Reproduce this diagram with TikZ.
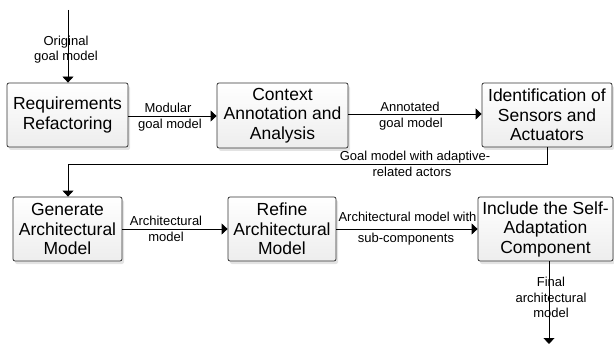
\documentclass[tikz,border=0pt]{standalone}
\usepackage{fontspec}
\setmainfont{Liberation Sans}
\usetikzlibrary{arrows.meta,shadows}
\tikzset{
  stage/.style={draw=black!80, line width=0.8pt, rounded corners=2pt,
    top color=white, bottom color=black!7,
    drop shadow={opacity=0.22, shadow xshift=2pt, shadow yshift=-3pt},
    align=center, inner sep=0pt,
    font=\fontsize{17.5}{19.5}\selectfont},
  flow/.style={draw=black, line width=0.8pt, -{Triangle[length=6pt,width=11pt]}},
  tag/.style={align=center, inner sep=0pt, font=\fontsize{13}{15.5}\selectfont}
}
\begin{document}
\begin{tikzpicture}[x=1pt,y=-1pt]
\useasboundingbox (0,0) rectangle (614,345);

% process stages
\node[stage, minimum width=121pt, minimum height=64pt] (req) at (67.5,115) {Requirements\\Refactoring};
\node[stage, minimum width=131pt, minimum height=65pt] (ctx) at (282.5,115.5) {Context\\Annotation and\\Analysis};
\node[stage, minimum width=130pt, minimum height=64pt] (sen) at (547,115) {Identification of\\Sensors and\\Actuators};
\node[stage, minimum width=109pt, minimum height=64pt] (gen) at (67.5,229) {Generate\\Architectural\\Model};
\node[stage, minimum width=108pt, minimum height=64pt] (ref) at (282,229) {Refine\\Architectural\\Model};
\node[stage, minimum width=135pt, minimum height=64pt] (inc) at (545.5,229) {Include the Self-\\Adaptation\\Component};

% free ends and bends
\coordinate (start) at (68,10);
\coordinate (finish) at (549,344);
\coordinate (bendA) at (547,164);
\coordinate (bendB) at (68,164);

% connectors
\draw[flow] (start) -- (start |- req.north);
\draw[flow] (req.east |- 0,116) -- (ctx.west |- 0,116);
\draw[flow] (ctx.east |- 0,114) -- (sen.west |- 0,114);
\draw[flow] (sen.south -| bendA) -- (bendA) -- (bendB) -- (bendB |- gen.north);
\draw[flow] (gen.east) -- (ref.west);
\draw[flow] (ref.east) -- (inc.west);
\draw[flow] (inc.south -| finish) -- (finish);

% connector labels
\node[tag] (l1) at (66,49.5) {Original\\goal model};
\node[tag] (l2a) at (168,108) {Modular};
\node[tag] (l2b) at (170,125) {goal model};
\node[tag] (l3a) at (410,107) {Annotated};
\node[tag] (l3b) at (411,124) {goal model};
\node[tag] (l4a) at (415,157) {Goal model with adaptive-};
\node[tag] (l4b) at (412,172) {related actors};
\node[tag] (l5) at (166,229) {Architectural\\model};
\node[tag] (l6a) at (407.5,217) {Architectural model with};
\node[tag] (l6b) at (406,239) {sub-components};
\node[tag] (l7) at (551,297.5) {Final\\architectural\\model};
\end{tikzpicture}
\end{document}
